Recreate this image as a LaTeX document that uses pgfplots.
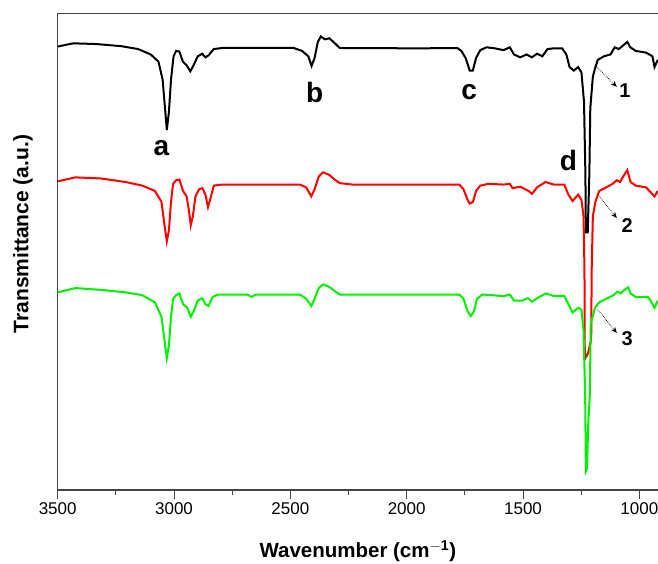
\documentclass[border=0pt]{standalone}
\usepackage{fontspec}
\setmainfont{Liberation Sans}
\usepackage{pgfplots}
\pgfplotsset{compat=1.18}
\usetikzlibrary{arrows.meta}
\definecolor{curvegreen}{RGB}{0,240,0}
\definecolor{axisgray}{RGB}{70,70,70}

\pgfplotstableread{
x y
3500 1234
3433 1243
3334 1241
3226 1235
3154 1227
3100 1212
3067 1192
3049 1142
3040 1072
3031 1002
3022 1052
3013 1142
3002 1207
2991 1222
2977 1220
2962 1192
2946 1182
2930 1165
2916 1182
2898 1207
2879 1214
2865 1204
2851 1210
2829 1227
2793 1230
2486 1230
2450 1222
2423 1207
2409 1180
2396 1202
2382 1247
2369 1262
2351 1254
2333 1257
2315 1247
2288 1230
1945 1229
1783 1230
1765 1222
1747 1202
1729 1167
1716 1167
1702 1202
1684 1224
1657 1232
1621 1229
1584 1224
1557 1232
1539 1212
1512 1204
1485 1212
1462 1204
1440 1214
1417 1207
1395 1227
1368 1229
1332 1229
1314 1212
1300 1177
1282 1167
1263 1177
1249 1162
1238 1080
1232 880
1230 717
1222 717
1215 880
1211 1062
1200 1150
1191 1172
1179 1197
1152 1207
1124 1212
1106 1232
1088 1227
1070 1237
1052 1247
1039 1232
1016 1222
971 1217
944 1207
935 1177
921 1197
}\blackcurve

\pgfplotstableread{
x y
3500 859
3424 870
3316 867
3208 857
3136 847
3082 832
3054 802
3042 742
3031 692
3022 722
3013 802
3004 852
2991 862
2977 864
2961 832
2946 817
2937 782
2928 737
2919 762
2908 817
2892 837
2878 840
2865 822
2854 787
2843 812
2829 847
2793 850
2459 850
2432 842
2410 817
2396 837
2378 872
2360 884
2333 877
2310 864
2288 854
2234 850
1774 850
1756 837
1738 807
1729 797
1715 802
1702 832
1684 847
1648 852
1584 850
1557 852
1545 840
1512 844
1476 832
1462 824
1440 842
1404 857
1368 850
1323 850
1305 822
1287 804
1263 822
1249 807
1240 762
1236 612
1235 400
1232 367
1221 380
1207 420
1205 612
1200 762
1189 802
1173 832
1143 842
1115 852
1097 862
1083 857
1070 872
1052 890
1038 857
1016 847
971 842
935 817
921 832
}\redcurve

\pgfplotstableread{
x y
3500 550
3424 562
3316 557
3208 550
3136 542
3082 522
3054 482
3042 422
3031 367
3022 402
3013 482
3004 532
2991 542
2977 547
2961 517
2943 507
2928 482
2916 497
2898 527
2879 534
2865 517
2852 512
2834 537
2811 544
2685 544
2667 537
2649 544
2459 544
2432 532
2410 512
2396 532
2378 562
2360 572
2333 565
2306 552
2288 544
1774 544
1756 532
1738 497
1725 484
1711 497
1698 532
1675 544
1630 542
1584 539
1557 544
1539 527
1503 527
1479 534
1462 524
1431 537
1401 547
1368 540
1323 540
1305 517
1287 494
1263 507
1249 502
1240 442
1233 262
1230 52
1225 60
1220 180
1213 262
1209 462
1191 507
1173 522
1143 532
1112 542
1094 552
1079 547
1065 557
1048 564
1038 547
1016 537
962 537
935 507
921 527
}\greencurve

\begin{document}
\begin{tikzpicture}
\path[use as bounding box] (-57.7pt,-74pt) rectangle (600.3pt,490pt);
\begin{axis}[
  at={(0pt,0pt)}, anchor=south west,
  scale only axis,
  width=600.3pt, height=476.5pt,
  x dir=reverse,
  xmin=920, xmax=3500,
  ymin=0, ymax=1326,
  axis x line*=box,
  axis y line*=left,
  axis line style={axisgray, line width=1.1pt},
  xtick={1000,1500,2000,2500,3000,3500},
  minor x tick num=1,
  xtick pos=left,
  ytick=\empty,
  tick align=outside,
  major tick length=9pt,
  minor tick length=5pt,
  tick style={axisgray, line width=1pt},
  /pgf/number format/assume math mode=true,
  /pgf/number format/1000 sep={},
  xticklabel style={font=\fontsize{17}{19}\selectfont, text=black},
  xlabel={\textbf{Wavenumber (cm$^{\mathbf{-1}}$)}},
  xlabel style={font=\fontsize{20.5}{22}\selectfont, at={(axis description cs:0.5,-0.142)}, anchor=base},
  ylabel={\textbf{Transmittance (a.u.)}},
  ylabel style={font=\fontsize{21}{23}\selectfont, at={(axis description cs:-0.058,0.537)}, anchor=center},
  clip=true,
]
\addplot[black, line width=2pt] table[x=x,y=y] {\blackcurve};
\addplot[red, line width=2pt] table[x=x,y=y] {\redcurve};
\addplot[curvegreen, line width=2pt] table[x=x,y=y] {\greencurve};

\node[font=\fontsize{28}{30}\selectfont\bfseries] at (axis cs:3054,952) {a};
\node[font=\fontsize{28}{30}\selectfont\bfseries] at (axis cs:2396,1107) {b};
\node[font=\fontsize{28}{30}\selectfont\bfseries] at (axis cs:1732,1107) {c};
\node[font=\fontsize{28}{30}\selectfont\bfseries] at (axis cs:1305,917) {d};

\draw[densely dotted, line width=0.7pt, -{Stealth[length=6pt,width=5pt]}] (axis cs:1191,1182) -- (axis cs:1097,1122);
\draw[densely dotted, line width=0.7pt, -{Stealth[length=6pt,width=5pt]}] (axis cs:1179,822) -- (axis cs:1097,757);
\draw[densely dotted, line width=0.7pt, -{Stealth[length=6pt,width=5pt]}] (axis cs:1179,502) -- (axis cs:1097,437);
\node[font=\fontsize{20}{22}\selectfont\bfseries] at (axis cs:1062,1110) {1};
\node[font=\fontsize{20}{22}\selectfont\bfseries] at (axis cs:1052,737) {2};
\node[font=\fontsize{20}{22}\selectfont\bfseries] at (axis cs:1052,422) {3};
\end{axis}
\end{tikzpicture}
\end{document}
